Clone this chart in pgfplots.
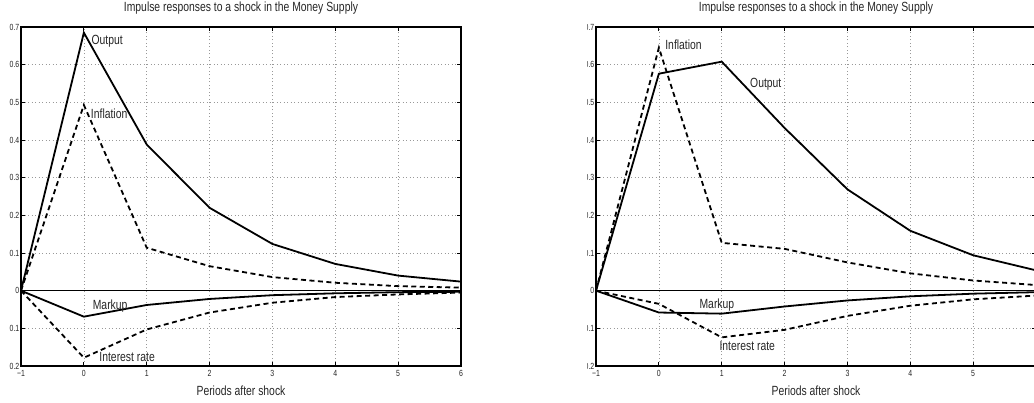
\documentclass[border=0pt]{standalone}
\usepackage{fontspec}
\setmainfont{Liberation Sans}[FakeStretch=0.78]
\usepackage{pgfplots}
\pgfplotsset{compat=1.18}
\newcommand{\lblfont}{\fontsize{13.3bp}{15bp}\selectfont}
\newcommand{\tkfont}{\fontsize{8.9bp}{10bp}\selectfont}
\tikzset{
  sol/.style={black, solid, line width=1.8bp, mark=none},
  dsh/.style={black, line width=1.8bp, mark=none, dash pattern=on 5bp off 3.5bp},
  lab/.style={anchor=west, inner sep=0pt, font=\lblfont, text=black!85},
}
\pgfplotsset{
  irf/.style={
    scale only axis, width=440bp, height=339bp, anchor=south west,
    xmin=-1, xmax=6, ymin=-0.2, ymax=0.7,
    xtick={-1,0,1,2,3,4,5,6},
    xticklabels={−1,0,1,2,3,4,5,6},
    ytick={-0.2,-0.1,0,0.1,0.2,0.3,0.4,0.5,0.6,0.7},
    yticklabels={0.2,0.1,0,0.1,0.2,0.3,0.4,0.5,0.6,0.7},
    tick pos=both, tick align=inside, major tick length=4bp,
    tick style={black, line width=1bp},
    axis line style={black, line width=1.7bp},
    grid=major, grid style={gray!80, line width=0.6bp, dash pattern=on 1bp off 2.5bp},
    ticklabel style={font=\tkfont, text=black!85},
    xticklabel style={anchor=north, inner sep=0pt, yshift=-4.5bp},
    yticklabel style={anchor=east, inner sep=0pt, xshift=-1.5bp},
    title={Impulse responses to a shock in the Money Supply},
    title style={font=\lblfont, at={(axis description cs:0.5,1)}, anchor=base, inner sep=0pt, yshift=9.5bp, text=black!85},
    xlabel={Periods after shock},
    xlabel style={font=\lblfont, at={(axis description cs:0.5,0)}, anchor=base, inner sep=0pt, yshift=-29bp, text=black!85},
    clip=false,
  },
}
\begin{document}
\begin{tikzpicture}
% ---------------- left panel ----------------
\begin{axis}[irf, at={(21bp,37bp)}]
\addplot[black, line width=0.9bp, mark=none] coordinates {(-1,0) (6,0)};
% Output
\addplot[sol] coordinates {(-1,0) (0,0.685) (1,0.388) (2,0.220) (3,0.124) (4,0.071) (5,0.040) (6,0.024)};
% Inflation
\addplot[dsh] coordinates {(-1,0) (0,0.493) (1,0.114) (2,0.065) (3,0.036) (4,0.021) (5,0.012) (6,0.008)};
% Markup
\addplot[sol] coordinates {(-1,0) (0,-0.069) (1,-0.038) (2,-0.022) (3,-0.012) (4,-0.007) (5,-0.004) (6,-0.003)};
% Interest rate
\addplot[dsh] coordinates {(-1,0) (0,-0.178) (1,-0.103) (2,-0.058) (3,-0.032) (4,-0.017) (5,-0.010) (6,-0.005)};
\node[lab] at (axis cs:0.12,0.662) {Output};
\node[lab] at (axis cs:0.11,0.470) {Inflation};
\node[lab] at (axis cs:0.14,-0.041) {Markup};
\node[lab] at (axis cs:0.245,-0.175) {Interest rate};
\end{axis}
% ---------------- right panel ----------------
\begin{scope}
\clip (587bp,0bp) rectangle (1034bp,403bp);
\begin{axis}[irf, at={(596bp,37bp)}]
\addplot[black, line width=0.9bp, mark=none] coordinates {(-1,0) (6,0)};
% Output
\addplot[sol] coordinates {(-1,0) (0,0.576) (1,0.608) (2,0.432) (3,0.269) (4,0.159) (5,0.094) (6,0.054)};
% Inflation
\addplot[dsh] coordinates {(-1,0) (0,0.645) (1,0.127) (2,0.111) (3,0.075) (4,0.046) (5,0.027) (6,0.015)};
% Markup
\addplot[sol] coordinates {(-1,0) (0,-0.058) (1,-0.061) (2,-0.042) (3,-0.026) (4,-0.015) (5,-0.008) (6,-0.004)};
% Interest rate
\addplot[dsh] coordinates {(-1,0) (0,-0.035) (1,-0.124) (2,-0.104) (3,-0.067) (4,-0.040) (5,-0.023) (6,-0.013)};
\node[lab] at (axis cs:0.10,0.653) {Inflation};
\node[lab] at (axis cs:1.45,0.547) {Output};
\node[lab] at (axis cs:0.645,-0.038) {Markup};
\node[lab] at (axis cs:0.963,-0.147) {Interest rate};
\end{axis}
\end{scope}
\pgfresetboundingbox
\path[use as bounding box] (0,0) rectangle (1034bp,403bp);
\end{tikzpicture}
\end{document}
